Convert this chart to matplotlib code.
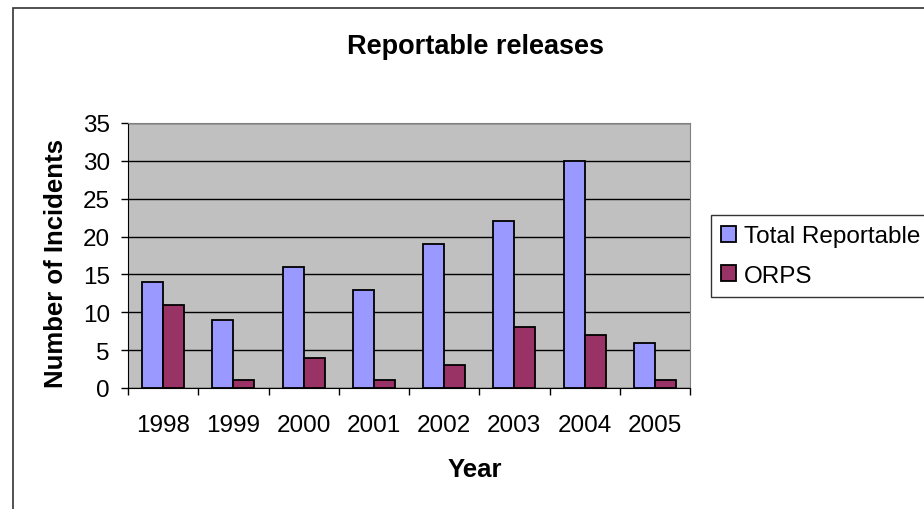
import numpy as np
import matplotlib.pyplot as plt
from matplotlib.patches import Rectangle

plt.rcParams['font.family'] = ['Liberation Sans', 'DejaVu Sans']

years = ['1998', '1999', '2000', '2001', '2002', '2003', '2004', '2005']
total_reportable = [14, 9, 16, 13, 19, 22, 30, 6]
orps = [11, 1, 4, 1, 3, 8, 7, 1]

W, H = 924, 510
fig = plt.figure(figsize=(W / 100, H / 100), dpi=100)

# plot area in pixel coords: left 128, right 690, top 124, bottom 389
ax = fig.add_axes([128 / W, 1 - 389 / H, (690 - 128) / W, (389 - 124) / H])
ax.set_facecolor('#C0C0C0')

x = np.arange(len(years))
bw = 0.3
ax.bar(x - bw / 2, total_reportable, bw, color='#9999FF', edgecolor='black',
       linewidth=1.3, label='Total Reportable', zorder=3)
ax.bar(x + bw / 2, orps, bw, color='#993366', edgecolor='black',
       linewidth=1.3, label='ORPS', zorder=3)

ax.set_xlim(-0.5, len(years) - 0.5)
ax.set_ylim(0, 35)
ax.set_yticks(range(0, 36, 5))
ax.yaxis.grid(True, color='black', linewidth=1)
ax.set_axisbelow(True)

# category labels centred, ticks on the boundaries
ax.set_xticks(x)
ax.set_xticklabels(years)
ax.set_xticks(np.arange(-0.5, len(years)), minor=True)
ax.tick_params(axis='x', which='major', length=0, pad=19, labelsize=17.5)
ax.tick_params(axis='x', which='minor', length=5, width=1, direction='out')
ax.tick_params(axis='y', length=5, width=1, direction='out', pad=8, labelsize=17.5)

for side in ['top', 'right']:
    ax.spines[side].set_color('#808080')
for side in ['left', 'bottom']:
    ax.spines[side].set_color('black')

fig.text(475 / W, 1 - 47 / H, 'Reportable releases', fontsize=19.5,
         fontweight='bold', ha='center', va='center')
fig.text(475 / W, 1 - 470 / H, 'Year', fontsize=18.5,
         fontweight='bold', ha='center', va='center')
fig.text(56 / W, 1 - 264 / H, 'Number of Incidents', fontsize=18.5,
         fontweight='bold', ha='center', va='center', rotation=90)

leg = fig.legend(loc='upper left', bbox_to_anchor=(711 / W, 1 - 216 / H),
                 fontsize=17.5, frameon=True, fancybox=False, handlelength=0.62,
                 handleheight=0.62, handletextpad=0.32, borderpad=0.42,
                 labelspacing=0.72, borderaxespad=0)
leg.get_frame().set_edgecolor('black')
leg.get_frame().set_linewidth(1)

# outer chart border, running off the right and bottom edges
fig.patches.append(Rectangle((13 / W, -0.1), 1.2, 1 - 9 / H + 0.1,
                             transform=fig.transFigure, fill=False,
                             edgecolor='#333333', linewidth=1.2))

fig.savefig('out.png', dpi=100)
